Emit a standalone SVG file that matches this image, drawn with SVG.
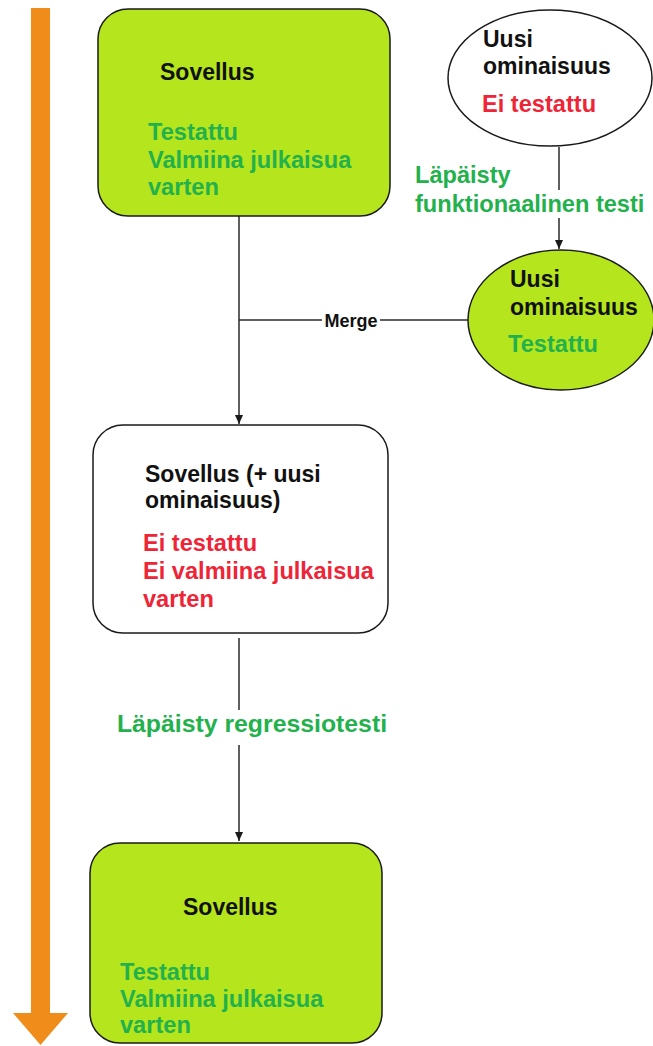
<svg xmlns="http://www.w3.org/2000/svg" width="653" height="1046" viewBox="0 0 653 1046">
  <style>
    .box { stroke: #1a1a1a; stroke-width: 1.5; }
    .done { fill: #b5e51d; }
    .open { fill: #ffffff; }
    .title { font-family: "Liberation Sans", Arial, sans-serif; font-weight: bold; font-size: 23px; fill: #111111; }
    .ok { font-family: "Liberation Sans", Arial, sans-serif; font-weight: bold; font-size: 23.6px; fill: #22b14c; }
    .bad { font-family: "Liberation Sans", Arial, sans-serif; font-weight: bold; font-size: 23.6px; fill: #ee2437; }
    .edge { stroke: #2a2a2a; stroke-width: 1.5; fill: none; }
    .small { font-family: "Liberation Sans", Arial, sans-serif; font-weight: bold; font-size: 18px; fill: #111111; }
  </style>
  <defs>
    <marker id="head" markerWidth="10" markerHeight="10" refX="9" refY="5" orient="auto" markerUnits="userSpaceOnUse">
      <path d="M0,1 L9,5 L0,9 Z" fill="#1a1a1a"/>
    </marker>
  </defs>

  <rect width="653" height="1046" fill="#ffffff"/>

  <!-- time axis -->
  <g id="timeline">
    <rect x="31" y="8" width="19" height="1006" fill="#f08c1a"/>
    <polygon points="13,1013 68,1013 40.5,1045" fill="#f08c1a"/>
  </g>

  <!-- connectors -->
  <g id="connectors">
    <line class="edge" x1="239" y1="216" x2="239" y2="424" marker-end="url(#head)"/>
    <line class="edge" x1="239" y1="320" x2="322" y2="320"/>
    <line class="edge" x1="380" y1="320" x2="468" y2="320"/>
    <text class="small" x="351" y="327" text-anchor="middle">Merge</text>

    <line class="edge" x1="559" y1="147" x2="559" y2="190"/>
    <line class="edge" x1="559" y1="218" x2="559" y2="249" marker-end="url(#head)"/>
    <text class="ok" x="415" y="183">Läpäisty</text>
    <text class="ok" x="415" y="212">funktionaalinen testi</text>

    <line class="edge" x1="239" y1="638" x2="239" y2="710"/>
    <line class="edge" x1="239" y1="745" x2="239" y2="841" marker-end="url(#head)"/>
    <text class="ok" x="252" y="732" text-anchor="middle" style="font-size:24.8px">Läpäisty regressiotesti</text>
  </g>

  <g id="app-tested">
    <rect class="box done" x="98" y="9" width="292" height="207" rx="30" ry="30"/>
    <text class="title" x="160" y="80">Sovellus</text>
    <text class="ok" x="148" y="140">Testattu</text>
    <text class="ok" x="148" y="168">Valmiina julkaisua</text>
    <text class="ok" x="148" y="195">varten</text>
  </g>

  <g id="feature-untested">
    <ellipse class="box open" cx="550" cy="78" rx="102" ry="68"/>
    <text class="title" x="483" y="47">Uusi</text>
    <text class="title" x="483" y="74">ominaisuus</text>
    <text class="bad" x="482" y="112">Ei testattu</text>
  </g>

  <g id="feature-tested">
    <ellipse class="box done" cx="561" cy="320" rx="93" ry="70"/>
    <text class="title" x="510" y="287">Uusi</text>
    <text class="title" x="510" y="315">ominaisuus</text>
    <text class="ok" x="508" y="352">Testattu</text>
  </g>

  <g id="app-merged">
    <rect class="box open" x="93" y="425" width="295" height="208" rx="30" ry="30"/>
    <text class="title" x="145" y="482">Sovellus (+ uusi</text>
    <text class="title" x="145" y="508">ominaisuus)</text>
    <text class="bad" x="143" y="551">Ei testattu</text>
    <text class="bad" x="143" y="579">Ei valmiina julkaisua</text>
    <text class="bad" x="143" y="607">varten</text>
  </g>

  <g id="app-release">
    <rect class="box done" x="90" y="843" width="292" height="200" rx="30" ry="30"/>
    <text class="title" x="183" y="915">Sovellus</text>
    <text class="ok" x="120" y="980">Testattu</text>
    <text class="ok" x="120" y="1007">Valmiina julkaisua</text>
    <text class="ok" x="120" y="1033">varten</text>
  </g>
</svg>
